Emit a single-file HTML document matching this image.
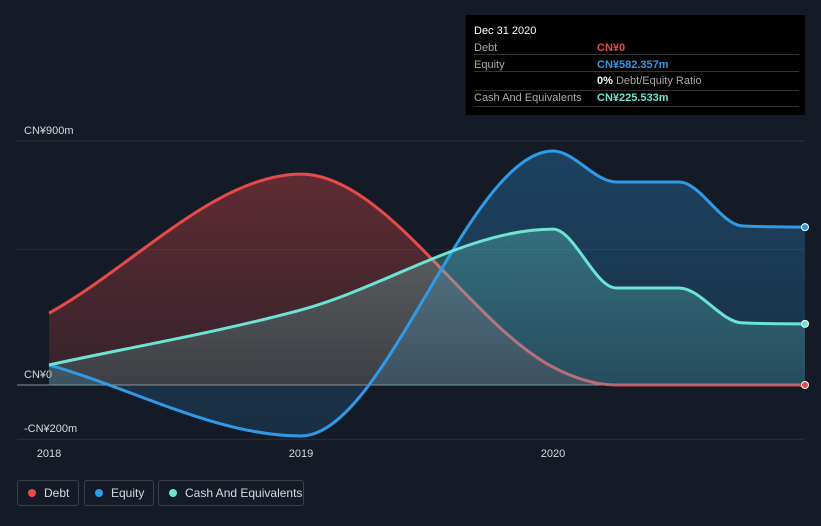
<!DOCTYPE html>
<html><head><meta charset="utf-8"><style>
body{margin:0;background:#151b26;font-family:"Liberation Sans",sans-serif;}
#wrap{position:relative;width:821px;height:526px;overflow:hidden;background:#151b26;}
svg text{font-family:"Liberation Sans",sans-serif;}
.legend{position:absolute;top:480px;height:26px;border:1px solid #3a404b;border-radius:3px;color:#d6d9de;font-size:12px;line-height:24px;padding:0 0 0 10px;box-sizing:border-box;white-space:nowrap;}
.dot{display:inline-block;width:8px;height:8px;border-radius:50%;margin-right:8px;vertical-align:0px;}
</style></head><body>
<div id="wrap">
<svg id="chart" width="821" height="526"></svg>
<div style="position:absolute;left:466px;top:15px;width:339px;height:100px;background:#000;color:#fff;font-size:11px;">
<div style="position:absolute;left:8px;top:10px;font-size:11px;color:#fff;">Dec 31 2020</div>
<div style="position:absolute;left:8px;top:39px;right:6px;border-top:1px solid #333;"></div>
<div style="position:absolute;left:8px;top:27px;color:#aaa;">Debt</div><div style="position:absolute;left:131px;top:27px;color:#e84a4a;font-weight:bold;">CN¥0</div>
<div style="position:absolute;left:8px;top:56px;right:6px;border-top:1px solid #333;"></div>
<div style="position:absolute;left:8px;top:44px;color:#aaa;">Equity</div><div style="position:absolute;left:131px;top:44px;color:#2f9be6;font-weight:bold;">CN¥582.357m</div>
<div style="position:absolute;left:131px;top:60px;color:#aaa;"><b style="color:#fff">0%</b> Debt/Equity Ratio</div>
<div style="position:absolute;left:8px;top:75px;right:6px;border-top:1px solid #333;"></div>
<div style="position:absolute;left:8px;top:77px;color:#aaa;">Cash And Equivalents</div><div style="position:absolute;left:131px;top:77px;color:#6de3d4;font-weight:bold;">CN¥225.533m</div>
<div style="position:absolute;left:8px;top:91px;right:6px;border-top:1px solid #333;"></div>
</div>
<div class="legend" style="left:17px;width:62px;"><span class="dot" style="background:#e84a4a"></span>Debt</div>
<div class="legend" style="left:84px;width:70px;"><span class="dot" style="background:#2f9be6"></span>Equity</div>
<div class="legend" style="left:158px;width:146px;"><span class="dot" style="background:#6de3d4"></span>Cash And Equivalents</div>
</div>
<script>
const years=[2018,2019,2020,2020.25,2020.5,2020.75,2021];
const debt=[265,778,66,0,0,0,0];
const equity=[74,-188,863,749,749,587,582.357];
const cash=[74,277,575,358,358,229,225.533];
const xTicks=[2018,2019,2020];
const yTicks=[900,0,-200];
const yLabels=["CN¥900m","CN¥0","-CN¥200m"];
const NS="http://www.w3.org/2000/svg";
const svg=document.getElementById('chart');
const X=v=>49+(v-2018)*252;
const Y=v=>385-v*(244/900);
function mk(t,a,p){const e=document.createElementNS(NS,t);for(const k in a)e.setAttribute(k,a[k]);(p||svg).appendChild(e);return e;}
function monoPath(xs,ys){const n=xs.length,d=[],m=[];for(let i=0;i<n-1;i++)d.push((ys[i+1]-ys[i])/(xs[i+1]-xs[i]));
m[0]=d[0];m[n-1]=d[n-2];for(let i=1;i<n-1;i++){m[i]=(d[i-1]*d[i]<=0)?0:(d[i-1]+d[i])/2;}
for(let i=0;i<n-1;i++){if(d[i]===0){m[i]=0;m[i+1]=0;continue;}const a=m[i]/d[i],b=m[i+1]/d[i],s=a*a+b*b;if(s>9){const t=3/Math.sqrt(s);m[i]=t*a*d[i];m[i+1]=t*b*d[i];}}
let p="M"+xs[0]+","+ys[0];for(let i=0;i<n-1;i++){const h=(xs[i+1]-xs[i])/3;p+=" C"+(xs[i]+h)+","+(ys[i]+m[i]*h)+" "+(xs[i+1]-h)+","+(ys[i+1]-m[i+1]*h)+" "+xs[i+1]+","+ys[i+1];}return p;}
const defs=mk('defs',{});
function grad(id,c,o1,o2){const g=mk('linearGradient',{id:id,x1:0,y1:0,x2:0,y2:1},defs);mk('stop',{offset:0,'stop-color':c,'stop-opacity':o1},g);mk('stop',{offset:1,'stop-color':c,'stop-opacity':o2},g);}
grad('gd','#e84a4a',0.35,0.15);grad('ge','#2f9be6',0.3,0.15);grad('gc','#6de3d4',0.3,0.15);
yTicks.forEach((t,i)=>{const l=mk('line',{x1:17,x2:805,y1:Y(t),y2:Y(t),stroke:t===0?'#8a9099':'#2c323d','stroke-width':1});

const tx=mk('text',{x:24,y:Y(t)-7,fill:'#d6d9de','font-size':11});tx.textContent=yLabels[i];
});
mk('line',{x1:17,x2:805,y1:Y(500),y2:Y(500),stroke:'#232935','stroke-width':1});
xTicks.forEach(t=>{const tx=mk('text',{x:X(t),y:457,fill:'#d6d9de','font-size':11,'text-anchor':'middle'});tx.textContent=t;
});
const xs=years.map(X);
const series=[[debt,'#e84a4a','gd','debt'],[equity,'#2f9be6','ge','equity'],[cash,'#6de3d4','gc','cash']];
function area(s){const ys=s[0].map(Y);const p=monoPath(xs,ys);
const a=mk('path',{d:p+" L"+xs[xs.length-1]+","+Y(0)+" L"+xs[0]+","+Y(0)+" Z",fill:'url(#'+s[2]+')'});
}
function line(s){const ys=s[0].map(Y);const p=monoPath(xs,ys);
const l=mk('path',{d:p,fill:'none',stroke:s[1],'stroke-width':3});
}
function pt(s){const ys=s[0].map(Y);
const c=mk('circle',{cx:xs[xs.length-1],cy:ys[ys.length-1],r:3.5,fill:s[1],stroke:'#fff','stroke-width':1});
}
area(series[0]);line(series[0]);
area(series[1]);area(series[2]);
line(series[1]);line(series[2]);
series.forEach(pt);
</script>
</body></html>
